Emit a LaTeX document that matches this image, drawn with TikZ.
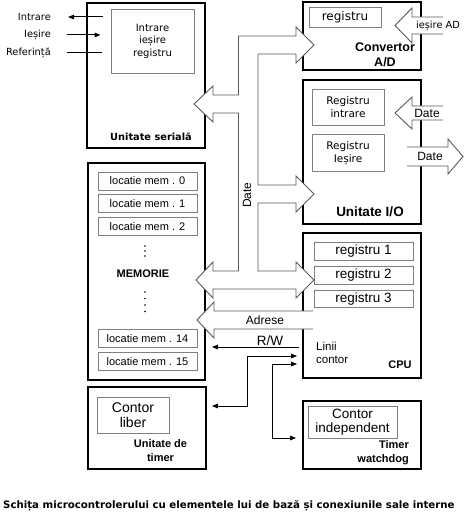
\documentclass[tikz,border=0pt]{standalone}
\usepackage{fontspec}
\setmainfont{DejaVu Sans}
\newfontfamily\arialfont{Liberation Sans}
\usetikzlibrary{arrows.meta,positioning}

\begin{document}
\begin{tikzpicture}[
  x=1pt, y=-1pt,
  unit/.style={draw, line width=1.7pt, minimum width=118pt, inner sep=0pt},
  reg/.style={draw=gray, line width=0.9pt, inner sep=0pt, align=center, font=\fontsize{10}{12.5}\selectfont},
  cell/.style={reg, minimum width=99pt, minimum height=18pt, font=\arialfont\fontsize{11}{13}\selectfont},
  title/.style={inner sep=0pt, align=center, font=\arialfont\bfseries\fontsize{11}{14}\selectfont},
  lbl/.style={inner sep=0pt, font=\fontsize{9.8}{12}\selectfont},
  albl/.style={inner sep=0pt, font=\arialfont\fontsize{12}{13}\selectfont},
  bus/.style={draw=black!65, line width=0.9pt, fill=white},
  wire/.style={line width=1pt},
  >={Triangle[length=6pt,width=4.5pt]}
]
\useasboundingbox (0,0) rectangle (467,516);

% serial unit
\node[unit, minimum height=145pt] (ser) at (146,75.5) {};
\node[reg, minimum width=83pt, minimum height=64pt] (serreg) at (152.5,41) {Intrare\\ieșire\\registru};
\node[inner sep=0pt, font=\bfseries\fontsize{9.8}{11}\selectfont] (sername) at (151,137) {Unitate serială};
\node[lbl, anchor=east] (lin) at (51,17) {Intrare};
\node[lbl, anchor=east] (lout) at (51,35) {Ieșire};
\node[lbl, anchor=east] (lref) at (51,53) {Referință};
\draw[wire, <-] ([xshift=17pt]lin.east) -- ([xshift=-8pt]lin.east -| serreg.west);
\draw[wire, ->] ([xshift=16pt]lout.east) -- ([xshift=-10pt]lout.east -| serreg.west);
\draw[wire] ([xshift=16pt]lref.east) -- ([xshift=-9pt]lref.east -| serreg.west);

% A/D converter
\node[unit, minimum height=68pt] (adc) at (362,36) {};
\node[reg, minimum width=72pt, minimum height=20pt, font=\fontsize{12}{14}\selectfont] (adcreg) at (345,17) {registru};
\node[title, font=\arialfont\bfseries\fontsize{12.5}{15}\selectfont] (adcname) at (385,54.5) {Convertor\\A/D};

% I/O unit
\node[unit, minimum height=144pt] (io) at (362,152) {};
\node[reg, minimum width=72pt, minimum height=36pt, font=\fontsize{10.5}{12.5}\selectfont] (ioin) at (348,107) {Registru\\intrare};
\node[reg, minimum width=72pt, minimum height=37pt, font=\fontsize{10.5}{12.5}\selectfont, below=9pt of ioin] (ioout) {Registru\\Ieșire};
\node[title, font=\arialfont\bfseries\fontsize{13.5}{15}\selectfont] (ioname) at (370,212) {Unitate I/O};

% CPU
\node[unit, minimum height=145pt] (cpu) at (362,305.5) {};
\node[cell, minimum height=17.5pt, font=\arialfont\fontsize{13.5}{14}\selectfont] (r1) at (363.5,251.5) {registru 1};
\node[cell, minimum height=17.5pt, font=\arialfont\fontsize{13.5}{14}\selectfont, below=5.5pt of r1] (r2) {registru 2};
\node[cell, minimum height=17.5pt, font=\arialfont\fontsize{13.5}{14}\selectfont, below=5pt of r2] (r3) {registru 3};
\node[albl, font=\arialfont\fontsize{11.5}{13}\selectfont, align=left, anchor=north west] (cnt) at (316,342) {Linii\\contor};
\node[title] (cpuname) at (400,365) {CPU};

% memory
\node[unit, minimum width=117pt, minimum height=217pt] (mem) at (146.5,271.5) {};
\node[cell] (m0) at (147.5,181) {locatie mem . 0};
\node[cell, below=4pt of m0] (m1) {locatie mem . 1};
\node[cell, below=4pt of m1] (m2) {locatie mem . 2};
\node[cell] (m14) at (147.5,338.5) {locatie mem . 14};
\node[cell, below=4pt of m14] (m15) {locatie mem . 15};
\node[title] (memname) at (143,274) {MEMORIE};
\foreach \y in {246,251,256,292,298.5,305,311.5}
  \fill (145,\y) circle (0.9pt);

% timer unit
\node[unit, minimum height=82pt] (tim) at (147,428) {};
\node[reg, minimum width=72pt, minimum height=36pt, font=\arialfont\fontsize{14}{15}\selectfont] (free) at (133,415) {Contor\\liber};
\node[title] (timname) at (160.5,451) {Unitate de\\timer};

% watchdog
\node[unit, minimum height=68pt] (wdg) at (362,435) {};
\node[reg, minimum width=89pt, minimum height=32pt, font=\arialfont\fontsize{13.5}{14}\selectfont] (indep) at (352.5,422) {Contor\\independent};
\node[title, align=right, anchor=east] (wdgname) at (409,453) {Timer\\watchdog};

% data bus
\path[bus] (196,280) -- (213,262) -- (213,271) -- (238.5,271) -- (238.5,113) -- (213,113)
  -- (213,122) -- (194,104) -- (213,86) -- (213,95) -- (238.5,95) -- (238.5,36) -- (296,36)
  -- (296,27) -- (314,45) -- (296,63) -- (296,54) -- (258,54) -- (258,185) -- (296,185)
  -- (296,176) -- (314,194) -- (296,212) -- (296,203) -- (258,203) -- (258,271) -- (296,271)
  -- (296,262) -- (314,280) -- (296,298) -- (296,289) -- (213,289) -- (213,298) -- cycle;
\node[albl, font=\arialfont\fontsize{12}{13}\selectfont, rotate=90] (dbus) at (247,195) {Date};

% address bus
\path[bus] (313,311) -- (214,311) -- (214,302) -- (197,320) -- (214,338) -- (214,329) -- (313,329);
\node[albl] (abus) at (265,320) {Adrese};

% external ports
\path[bus] (443,17) -- (412,17) -- (412,8) -- (395,25.5) -- (412,43) -- (412,34) -- (443,34);
\node[lbl] (adin) at (438,26) {ieșire AD};
\path[bus] (443,106) -- (412,106) -- (412,97) -- (395,113) -- (412,129) -- (412,120) -- (443,120);
\node[albl] (din) at (427,113) {Date};
\path[bus] (407,147) -- (448,147) -- (448,139) -- (463,156.5) -- (448,174) -- (448,166) -- (407,166);
\node[albl] (dout) at (430,156.5) {Date};

% control lines
\node[albl, font=\arialfont\fontsize{13.5}{14}\selectfont, anchor=south, inner sep=1pt] (rw) at (270,347) {R/W};
\draw[wire, ->] ([xshift=-3pt]rw.south -| cpu.west) -- ([xshift=6pt]rw.south -| mem.east);
\coordinate (tk) at (247,356);
\coordinate (wk) at (272,364);
\draw[wire, <->] ([xshift=5pt]tim.east |- 0,406) -| (tk) -- ([xshift=-5pt]tk -| cpu.west);
\draw[wire, <->] ([xshift=-6pt]wdg.west |- 0,438) -| (wk) -- ([xshift=-5pt]wk -| cpu.west);

% caption
\node[inner sep=0pt, anchor=west, font=\bfseries\fontsize{10.2}{12}\selectfont] (cap) at (3,506) {Schița microcontrolerului cu elementele lui de bază și conexiunile sale interne};
\end{tikzpicture}
\end{document}
